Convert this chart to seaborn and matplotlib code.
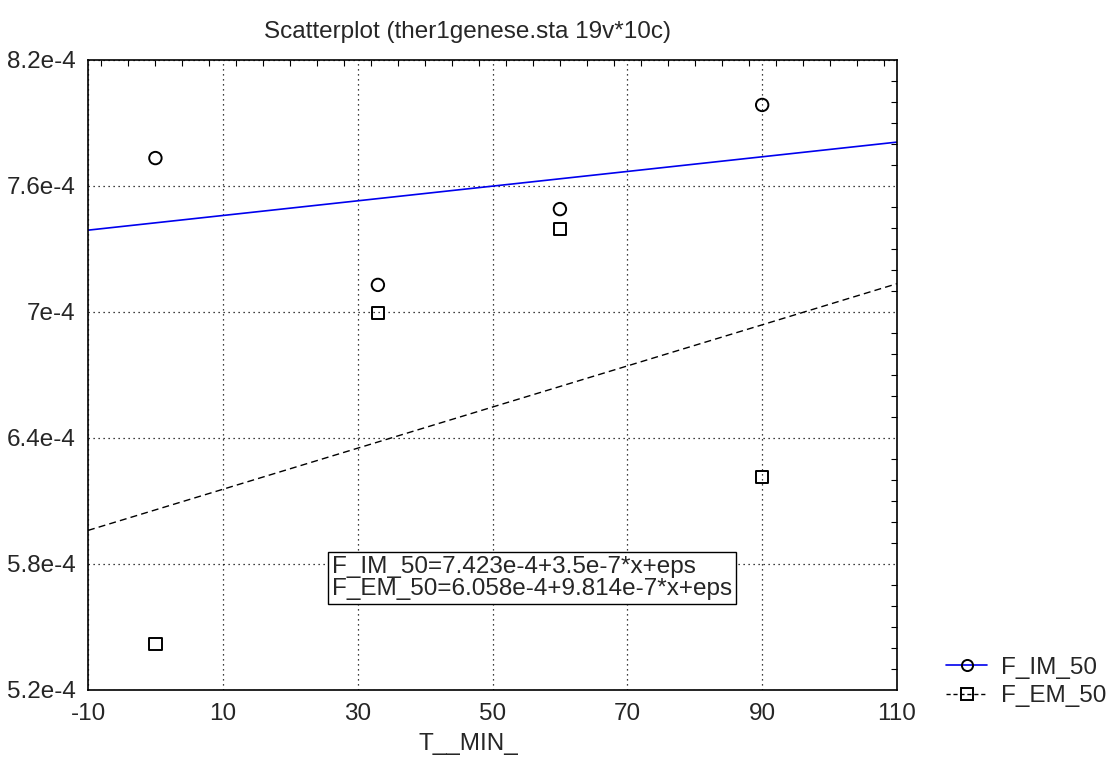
import numpy as np
import pandas as pd
import matplotlib
matplotlib.use("Agg")
import matplotlib.pyplot as plt
from matplotlib.lines import Line2D
from matplotlib.ticker import MultipleLocator
import seaborn as sns

# ---- data ----
t_min = [0, 33, 60, 90]
f_im_50 = [7.733e-4, 7.129e-4, 7.490e-4, 7.986e-4]
f_em_50 = [5.419e-4, 6.995e-4, 7.395e-4, 6.214e-4]
x_ticks = [-10, 10, 30, 50, 70, 90, 110]
y_ticks = [5.2e-4, 5.8e-4, 6.4e-4, 7.0e-4, 7.6e-4, 8.2e-4]
y_tick_labels = ["5.2e-4", "5.8e-4", "6.4e-4", "7e-4", "7.6e-4", "8.2e-4"]
title = "Scatterplot (ther1genese.sta 19v*10c)"
x_label = "T__MIN_"
eq_text = "F_IM_50=7.423e-4+3.5e-7*x+eps\nF_EM_50=6.058e-4+9.814e-7*x+eps"

df = pd.DataFrame({"T__MIN_": t_min, "F_IM_50": f_im_50, "F_EM_50": f_em_50})

sns.set_style("white")
plt.rcParams["font.family"] = ["Liberation Sans", "DejaVu Sans"]

FS = 17.5

fig = plt.figure(figsize=(11.09, 7.65), dpi=100)
ax = fig.add_axes([88 / 1109, 1 - 690 / 765, (897 - 88) / 1109, (690 - 60) / 765])

ax.set_xlim(x_ticks[0], x_ticks[-1])
ax.set_ylim(y_ticks[0], y_ticks[-1])

# regression lines across the full x range
sns.regplot(data=df, x="T__MIN_", y="F_IM_50", scatter=False, ci=None, truncate=False,
            ax=ax, line_kws=dict(color="#0000ee", lw=1.2))
sns.regplot(data=df, x="T__MIN_", y="F_EM_50", scatter=False, ci=None, truncate=False,
            ax=ax, line_kws=dict(color="black", lw=1.0, ls=(0, (5, 3))))

sns.scatterplot(data=df, x="T__MIN_", y="F_IM_50", marker="o", s=80, ax=ax,
                color="black", linewidth=1.4, zorder=5)
ax.collections[-1].set_facecolor("none")
ax.collections[-1].set_edgecolor("black")
sns.scatterplot(data=df, x="T__MIN_", y="F_EM_50", marker="s", s=80, ax=ax,
                color="black", linewidth=1.4, zorder=5)
ax.collections[-1].set_facecolor("none")
ax.collections[-1].set_edgecolor("black")

ax.set_xlim(x_ticks[0], x_ticks[-1])
ax.set_ylim(y_ticks[0], y_ticks[-1])
ax.set_xticks(x_ticks)
ax.set_xticklabels([str(v) for v in x_ticks])
ax.set_yticks(y_ticks)
ax.set_yticklabels(y_tick_labels)
ax.xaxis.set_minor_locator(MultipleLocator(4))
ax.yaxis.set_minor_locator(MultipleLocator(1e-5))
ax.tick_params(which="both", direction="in", top=True, right=True, labelsize=FS,
               color="black")
ax.tick_params(which="major", length=0, pad=9)
ax.tick_params(which="minor", length=4, width=0.8)
ax.grid(True, which="major", color="black", ls=(0, (1, 3)), lw=0.9)
for s in ax.spines.values():
    s.set_color("black")
    s.set_linewidth(1.2)
ax.set_xlabel("")
ax.set_ylabel("")

fig.text(468 / 1109, 1 - 32 / 765, title, ha="center", va="center", fontsize=FS)
fig.text(468 / 1109, 1 - 744 / 765, x_label, ha="center", va="center", fontsize=FS)

ax.text((332 - 88) / 809, (690 - 578) / 630, eq_text, transform=ax.transAxes,
        ha="left", va="center", fontsize=FS, linespacing=1.0,
        bbox=dict(boxstyle="square,pad=0.15", fc="white", ec="black", lw=1))

handles = [
    Line2D([], [], color="#0000ee", lw=1.2, marker="o", mfc="none", mec="black",
           ms=8, mew=1.4),
    Line2D([], [], color="black", lw=1.0, ls=(0, (3, 2)), marker="s", mfc="none",
           mec="black", ms=8, mew=1.4),
]
fig.legend(handles, ["F_IM_50", "F_EM_50"], loc="center left",
           bbox_to_anchor=(946 / 1109, 1 - 682 / 765), frameon=False, fontsize=FS,
           handlelength=1.7, labelspacing=0.25, handletextpad=0.55,
           borderpad=0, borderaxespad=0)

fig.savefig("out.png", dpi=100)
